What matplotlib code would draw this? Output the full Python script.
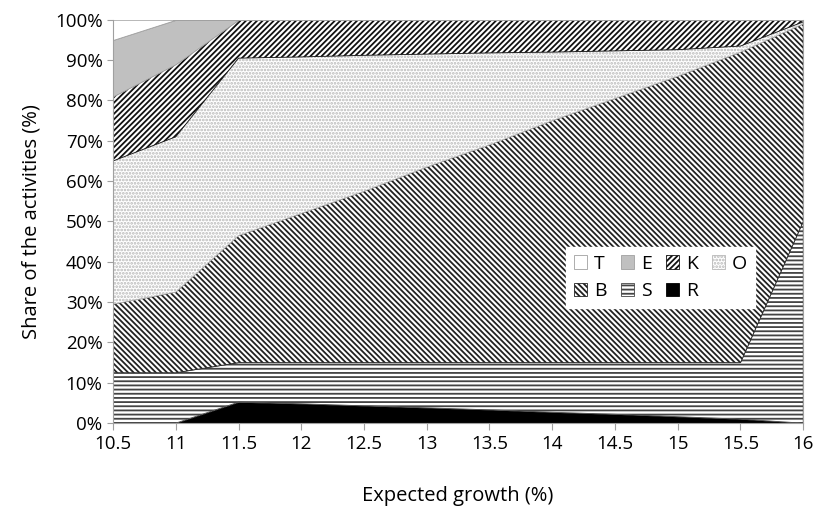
import matplotlib.pyplot as plt
import numpy as np

plt.rcParams['font.family'] = ['Open Sans', 'DejaVu Sans']
plt.rcParams['hatch.linewidth'] = 1.3

growth = [10.5, 11, 11.5, 12, 12.5, 13, 13.5, 14, 14.5, 15, 15.5, 16]

# share of each activity (%), stacked from bottom to top
R = [0, 0, 5.2, 4.8, 4.3, 3.8, 3.3, 2.7, 2.2, 1.6, 1.0, 0]
S = [12.5, 12.5, 9.8, 10.2, 10.7, 11.2, 11.7, 12.3, 12.8, 13.4, 14.0, 50]
B = [17, 20, 31.5, 37, 42.5, 48.5, 54, 60, 65.5, 71, 77, 49]
O = [35.5, 38.5, 44, 38.8, 33.7, 28, 22.8, 17, 11.8, 6.6, 1.5, 0.5]
K = [16, 18, 9.5, 9.2, 8.8, 8.5, 8.2, 8, 7.7, 7.4, 6.5, 0.5]
E = [14, 11, 0, 0, 0, 0, 0, 0, 0, 0, 0, 0]
T = [5, 0, 0, 0, 0, 0, 0, 0, 0, 0, 0, 0]

series = [('R', R), ('S', S), ('B', B), ('O', O), ('K', K), ('E', E), ('T', T)]
styles = {
    'R': dict(facecolor='black', edgecolor='black', hatch=None),
    'S': dict(facecolor='white', edgecolor='#444444', hatch='----'),
    'B': dict(facecolor='white', edgecolor='#222222', hatch='\\\\\\\\\\\\'),
    'O': dict(facecolor='white', edgecolor='#b8b8b8', hatch='.....'),
    'K': dict(facecolor='white', edgecolor='#111111', hatch='//////'),
    'E': dict(facecolor='#c0c0c0', edgecolor='#a0a0a0', hatch=None),
    'T': dict(facecolor='white', edgecolor='#a0a0a0', hatch=None),
}

fig = plt.figure(figsize=(8.13, 5.08), dpi=100)
ax = fig.add_axes([0.139, 0.167, 0.849, 0.794])

x = np.array(growth)
base = np.zeros(len(x))
handles = {}
for name, vals in series:
    top = base + np.array(vals)
    h = ax.fill_between(x, base, top, linewidth=0.6, label=name, **styles[name])
    handles[name] = h
    base = top

ax.set_xlim(10.5, 16)
ax.set_ylim(0, 100)
ax.set_xticks(growth)
ax.set_xticklabels([f'{g:g}' for g in growth])
ax.set_yticks(range(0, 101, 10))
ax.set_yticklabels([f'{v}%' for v in range(0, 101, 10)])
ax.tick_params(axis='both', labelsize=13.5, color='#a0a0a0', length=5)
ax.tick_params(axis='y', length=4)
for side in ['left', 'bottom', 'right']:
    ax.spines[side].set_color('#a0a0a0')
ax.spines['top'].set_visible(False)
ax.set_axisbelow(False)

ax.set_xlabel('Expected growth (%)', fontsize=14.5, labelpad=24)
ax.set_ylabel('Share of the activities (%)', fontsize=14.5, labelpad=10)

order = ['T', 'B', 'E', 'S', 'K', 'R', 'O']
leg = ax.legend([handles[n] for n in order], order, ncol=4,
                loc='upper left', bbox_to_anchor=(0.657, 0.437),
                borderaxespad=0, frameon=True, fancybox=False, framealpha=1,
                edgecolor='white', fontsize=14, handlelength=0.68,
                handleheight=0.68, handletextpad=0.35, columnspacing=0.72,
                borderpad=0.4, labelspacing=0.5)

fig.savefig('out.png', dpi=100)
